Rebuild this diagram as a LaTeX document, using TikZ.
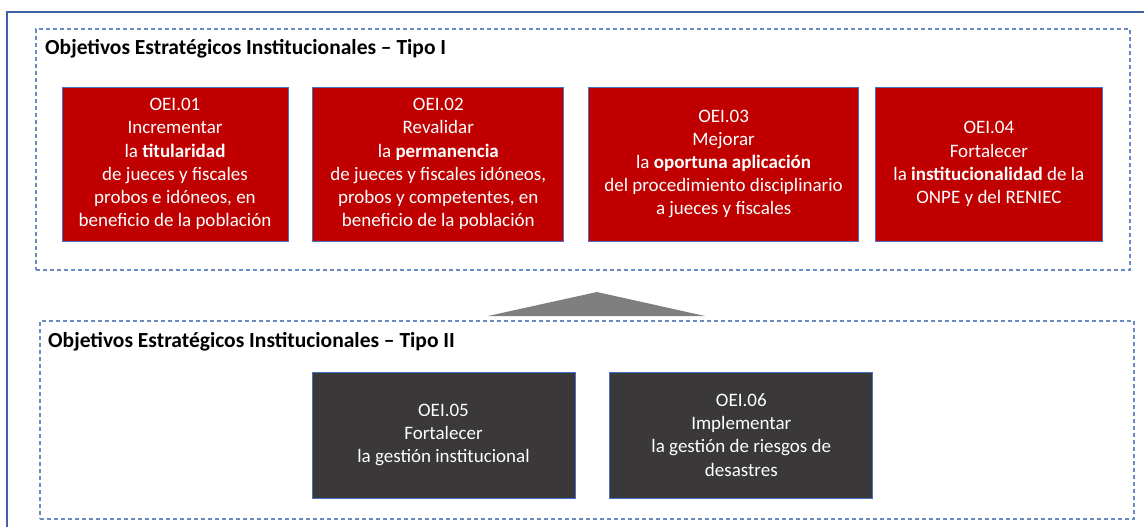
\documentclass[tikz,border=0pt]{standalone}
\usepackage{fontspec}
\setmainfont{Carlito}
\usepackage{tikz}
\usetikzlibrary{positioning}

\definecolor{oeired}{HTML}{C00000}
\definecolor{oeidark}{HTML}{3A3838}
\definecolor{bordeazul}{HTML}{4472C4}
\definecolor{lineazul}{HTML}{6A8AC6}
\definecolor{marcoazul}{HTML}{3F62A8}
\definecolor{flechagris}{HTML}{7F7F7F}

\begin{document}
\begin{tikzpicture}[
    x=1pt, y=-1pt,
    node distance=24pt,
    oei/.style={rectangle, draw=bordeazul, line width=0.8pt, fill=oeired, text=white,
        align=center, inner sep=0pt, minimum height=154pt,
        font=\fontsize{19}{23.2}\selectfont},
    oeigris/.style={oei, fill=oeidark, minimum height=126pt},
    grupo/.style={rectangle, draw=lineazul, line width=1.2pt, dash pattern=on 4pt off 3pt,
        inner sep=0pt, minimum width=1094pt},
    titulo/.style={anchor=base west, inner sep=0pt, font=\fontsize{21.5}{26}\selectfont\bfseries}
]
    \useasboundingbox (0,0) rectangle (1144,527);

    % marco exterior
    \draw[marcoazul, line width=1.4pt] (7,527) |- (1144,12);

    % grupos
    \node[grupo, minimum height=241pt] (tipoI) at (583,149.5) {};
    \node[grupo, minimum height=198pt] (tipoII) at (587,420) {};
    \node[titulo] (tituloI) at (45,55) {Objetivos Estratégicos Institucionales -- Tipo I};
    \node[titulo] (tituloII) at (48,347) {Objetivos Estratégicos Institucionales -- Tipo II};

    % Tipo I
    \node[oei, minimum width=226pt] (oei1) at (175,164)
        {OEI.01\\Incrementar\\la \textbf{titularidad}\\de jueces y fiscales\\probos e idóneos, en\\beneficio de la población};
    \node[oei, minimum width=251pt, right=of oei1] (oei2)
        {OEI.02\\Revalidar\\la \textbf{permanencia}\\de jueces y fiscales idóneos,\\probos y competentes, en\\beneficio de la población};
    \node[oei, minimum width=270pt, right=of oei2] (oei3)
        {OEI.03\\Mejorar\\la \textbf{oportuna aplicación}\\del procedimiento disciplinario\\a jueces y fiscales};
    \node[oei, minimum width=227pt, right=16pt of oei3] (oei4)
        {OEI.04\\Fortalecer\\la \textbf{institucionalidad} de la\\ONPE y del RENIEC};

    % Tipo II
    \node[oeigris, minimum width=263pt] (oei5) at (443.5,435)
        {OEI.05\\Fortalecer\\la gestión institucional};
    \node[oeigris, minimum width=263pt, right=34pt of oei5] (oei6)
        {OEI.06\\Implementar\\la gestión de riesgos de\\desastres};

    % flecha entre grupos
    \fill[flechagris] (488,316) -- (597,292) -- (705,316) -- cycle;
\end{tikzpicture}
\end{document}
